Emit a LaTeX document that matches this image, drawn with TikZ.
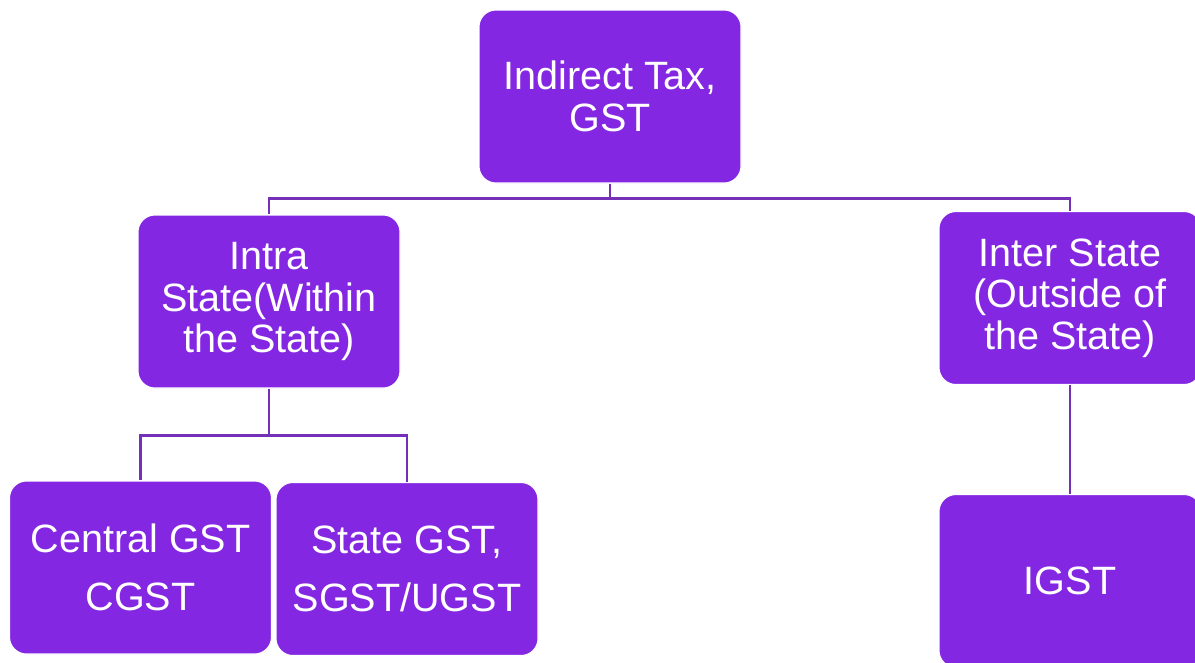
\documentclass[tikz,border=0pt]{standalone}
\usepackage{fontspec}
\setmainfont{Liberation Sans}
\definecolor{boxpurple}{HTML}{8427E2}
\definecolor{linepurple}{HTML}{7530B8}

\begin{document}
\begin{tikzpicture}[
    taxbox/.style={rectangle, rounded corners=0.34cm, fill=boxpurple, draw=white, line width=0.6pt,
                   minimum width=5.24cm, minimum height=3.46cm, text=white, align=center,
                   font=\fontsize{22.5}{23.5}\selectfont},
    link/.style={draw=linepurple, line width=1.6pt}]

\useasboundingbox (0,0) rectangle (23.9,-13.24);

\node[taxbox] (tax)     at (12.20,-1.93)  {Indirect Tax,\\GST};
\node[taxbox] (intra)   at ( 5.38,-6.03)  {Intra\\State(Within\\the State)};
\node[taxbox] (inter)   at (21.40,-5.96)  {Inter State\\(Outside of\\the State)};
\node[taxbox] (cgst)    at ( 2.81,-11.35) {Central GST\\[0.32cm]CGST};
\node[taxbox] (sgst)    at ( 8.14,-11.38) {State GST,\\[0.32cm]SGST/UGST};
\node[taxbox] (igst)    at (21.40,-11.62) {IGST};

\draw [link] (tax.south)   -- ++(0,-0.3) -| (intra.north);
\draw [link] (tax.south)   -- ++(0,-0.3) -| (inter.north);
\draw [link] (intra.south) -- ++(0,-0.94) -| (cgst.north);
\draw [link] (intra.south) -- ++(0,-0.94) -| (sgst.north);
\draw [link] (inter.south) -- (igst.north);

\end{tikzpicture}
\end{document}
